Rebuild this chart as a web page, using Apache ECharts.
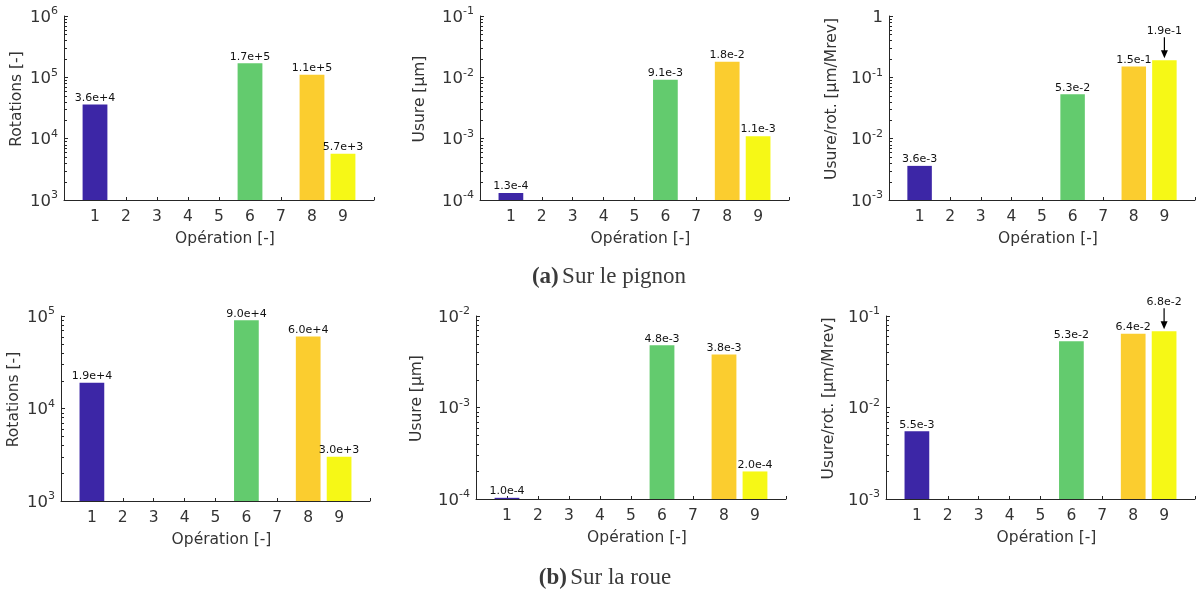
<!DOCTYPE html>
<html>
<head>
<meta charset="utf-8">
<script src="https://cdn.jsdelivr.net/npm/echarts@6/dist/echarts.min.js"></script>
<style>
html,body{margin:0;padding:0;background:#fff;}
#chart{width:1198px;height:595px;}
</style>
</head>
<body>
<div id="chart"></div>
<script>
// ---------- data ----------
const categories = [1, 2, 3, 4, 5, 6, 7, 8, 9];
const barColors = ['#3c26a6', '#3c26a6', '#3c26a6', '#3c26a6', '#3c26a6', '#63cb6e', '#63cb6e', '#fbcd2f', '#f6f816'];

const pignonRotations = [3.6e4, null, null, null, null, 1.7e5, null, 1.1e5, 5.7e3];
const pignonUsure     = [1.3e-4, null, null, null, null, 9.1e-3, null, 1.8e-2, 1.1e-3];
const pignonUsureRot  = [3.6e-3, null, null, null, null, 5.3e-2, null, 1.5e-1, 1.9e-1];
const roueRotations   = [1.9e4, null, null, null, null, 9.0e4, null, 6.0e4, 3.0e3];
const roueUsure       = [1.03e-4, null, null, null, null, 4.8e-3, null, 3.8e-3, 2.0e-4];
const roueUsureRot    = [5.5e-3, null, null, null, null, 5.3e-2, null, 6.4e-2, 6.8e-2];

const yNames = ['Rotations [-]', 'Usure [\u00b5m]', 'Usure/rot. [\u00b5m/Mrev]'];
const xName = 'Op\u00e9ration [-]';
const captions = ['Sur le pignon', 'Sur la roue'];
const captionTags = ['(a)', '(b)'];

// ---------- layout ----------
const FONT = 'DejaVu Sans';
const AX = '#262626';
const panels = [
  {data: pignonRotations, yName: yNames[0], min: 1e3,  max: 1e6,  arrow: false, grid: {left: 64,  top: 16,  width: 310, height: 184}, nameGap: 39},
  {data: pignonUsure,     yName: yNames[1], min: 1e-4, max: 1e-1, arrow: false, grid: {left: 480, top: 16,  width: 309, height: 184}, nameGap: 52},
  {data: pignonUsureRot,  yName: yNames[2], min: 1e-3, max: 1,    arrow: true,  grid: {left: 889, top: 16,  width: 309, height: 184}, nameGap: 49},
  {data: roueRotations,   yName: yNames[0], min: 1e3,  max: 1e5,  arrow: false, grid: {left: 61,  top: 316, width: 309, height: 185}, nameGap: 39},
  {data: roueUsure,       yName: yNames[1], min: 1e-4, max: 1e-2, arrow: false, grid: {left: 476, top: 316, width: 310, height: 183}, nameGap: 51},
  {data: roueUsureRot,    yName: yNames[2], min: 1e-3, max: 1e-1, arrow: true,  grid: {left: 886, top: 316, width: 310, height: 183}, nameGap: 49}
];

function minorTickValues(min, max) {
  const out = [];
  for (let e = Math.round(Math.log10(min)); e < Math.round(Math.log10(max)); e++) {
    for (let m = 2; m <= 9; m++) out.push([0, m * Math.pow(10, e)]);
  }
  return out;
}

function yLabel(v) {
  const e = Math.round(Math.log10(v));
  if (e === 0) return '{b|1}';
  return '{b|10}{s|' + e + '}';
}

const grids = [], xAxes = [], yAxes = [], series = [];
panels.forEach((p, i) => {
  grids.push(Object.assign({containLabel: false}, p.grid));
  xAxes.push({
    type: 'value', gridIndex: i, min: 0, max: 10, interval: 1,
    name: xName, nameLocation: 'middle', nameGap: 31,
    nameTextStyle: {fontFamily: FONT, fontSize: 15.5, color: '#333', padding: [0, 0, 0, 12]},
    axisLine: {show: true, onZero: false, lineStyle: {color: AX, width: 1}},
    axisTick: {show: true, inside: true, length: 3, lineStyle: {color: AX}},
    axisLabel: {
      fontFamily: FONT, fontSize: 15.5, color: '#333', margin: 9,
      formatter: v => (categories.indexOf(v) >= 0 ? String(v) : '')
    },
    splitLine: {show: false}
  });
  yAxes.push({
    type: 'log', logBase: 10, gridIndex: i, min: p.min, max: p.max,
    name: p.yName, nameLocation: 'middle', nameGap: p.nameGap, nameRotate: 90,
    nameTextStyle: {fontFamily: FONT, fontSize: 15.5, color: '#333', padding: [0, 0, 0, 18]},
    axisLine: {show: true, lineStyle: {color: AX, width: 1}},
    axisTick: {show: true, inside: true, length: 4, lineStyle: {color: AX}},
    axisLabel: {
      margin: 6, formatter: yLabel,
      rich: {
        b: {fontFamily: FONT, fontSize: 16.5, color: '#333', lineHeight: 20, verticalAlign: 'bottom'},
        s: {fontFamily: FONT, fontSize: 11, color: '#333', lineHeight: 20, verticalAlign: 'top', padding: [0, 0, 11, 0]}
      }
    },
    splitLine: {show: false}
  });
  const last = categories.length - 1;
  // bars: drawn from the axis minimum up to the value, through the axes' scales
  series.push({
    type: 'custom', xAxisIndex: i, yAxisIndex: i, silent: true, animation: false, clip: false,
    data: categories.map((c, k) => [c, p.data[k], k]).filter(d => d[1] != null),
    encode: {x: 0, y: 1},
    renderItem: (params, api) => {
      const c = api.value(0), v = api.value(1), k = api.value(2);
      const top = api.coord([c, v]);
      const base = api.coord([c, p.min]);
      const w = api.size([1, 1])[0] * 0.8;
      const children = [{
        type: 'rect',
        shape: {x: top[0] - w / 2, y: top[1], width: w, height: Math.max(base[1] - top[1], 1)},
        style: {fill: barColors[k]}
      }];
      if (!(p.arrow && k === last)) {
        children.push({type: 'text', x: top[0], y: top[1] - 1,
          style: {text: v.toExponential(1), fontFamily: FONT, fontSize: 11, fill: '#111', align: 'center', verticalAlign: 'bottom'}});
      }
      return {type: 'group', children: children};
    }
  });
  // minor ticks of the log axis
  series.push({
    type: 'custom', xAxisIndex: i, yAxisIndex: i, silent: true, animation: false, clip: false, z: 5,
    data: minorTickValues(p.min, p.max),
    encode: {x: 0, y: 1},
    renderItem: (params, api) => {
      const pt = api.coord([api.value(0), api.value(1)]);
      return {type: 'line', shape: {x1: pt[0], y1: Math.round(pt[1]) + 0.5, x2: pt[0] + 3, y2: Math.round(pt[1]) + 0.5}, style: {stroke: AX, lineWidth: 1}};
    }
  });
  if (p.arrow) {
    series.push({
      type: 'custom', xAxisIndex: i, yAxisIndex: i, silent: true, animation: false, clip: false,
      data: [[categories[last], p.data[last]]],
      encode: {x: 0, y: 1},
      renderItem: (params, api) => {
        const pt = api.coord([api.value(0), api.value(1)]);
        const x = pt[0], y = pt[1];
        return {type: 'group', children: [
          {type: 'line', shape: {x1: x, y1: y - 23, x2: x, y2: y - 8}, style: {stroke: '#000', lineWidth: 1.2}},
          {type: 'polygon', shape: {points: [[x - 3.5, y - 10], [x + 3.5, y - 10], [x, y - 2]]}, style: {fill: '#000'}},
          {type: 'text', x: x, y: y - 29, style: {text: api.value(1).toExponential(1), fontFamily: FONT, fontSize: 11, fill: '#111', align: 'center', verticalAlign: 'middle'}}
        ]};
      }
    });
  }
});

const chart = echarts.init(document.getElementById('chart'), null, {renderer: 'canvas'});
chart.setOption({
  backgroundColor: '#fff',
  animation: false,
  grid: grids, xAxis: xAxes, yAxis: yAxes, series: series,
  graphic: [0, 1].map(j => ({
    type: 'text', x: j === 0 ? 609 : 605, y: j === 0 ? 277 : 578,
    style: {
      text: '{t|' + captionTags[j] + '} {c|' + captions[j] + '}',
      align: 'center', verticalAlign: 'middle',
      rich: {
        t: {fontFamily: 'Liberation Serif', fontSize: 23, fontWeight: 'bold', fill: '#3a3a3a', color: '#3a3a3a'},
        c: {fontFamily: 'Liberation Serif', fontSize: 23, fill: '#3a3a3a', color: '#3a3a3a'}
      }
    }
  }))
});
</script>
</body>
</html>
